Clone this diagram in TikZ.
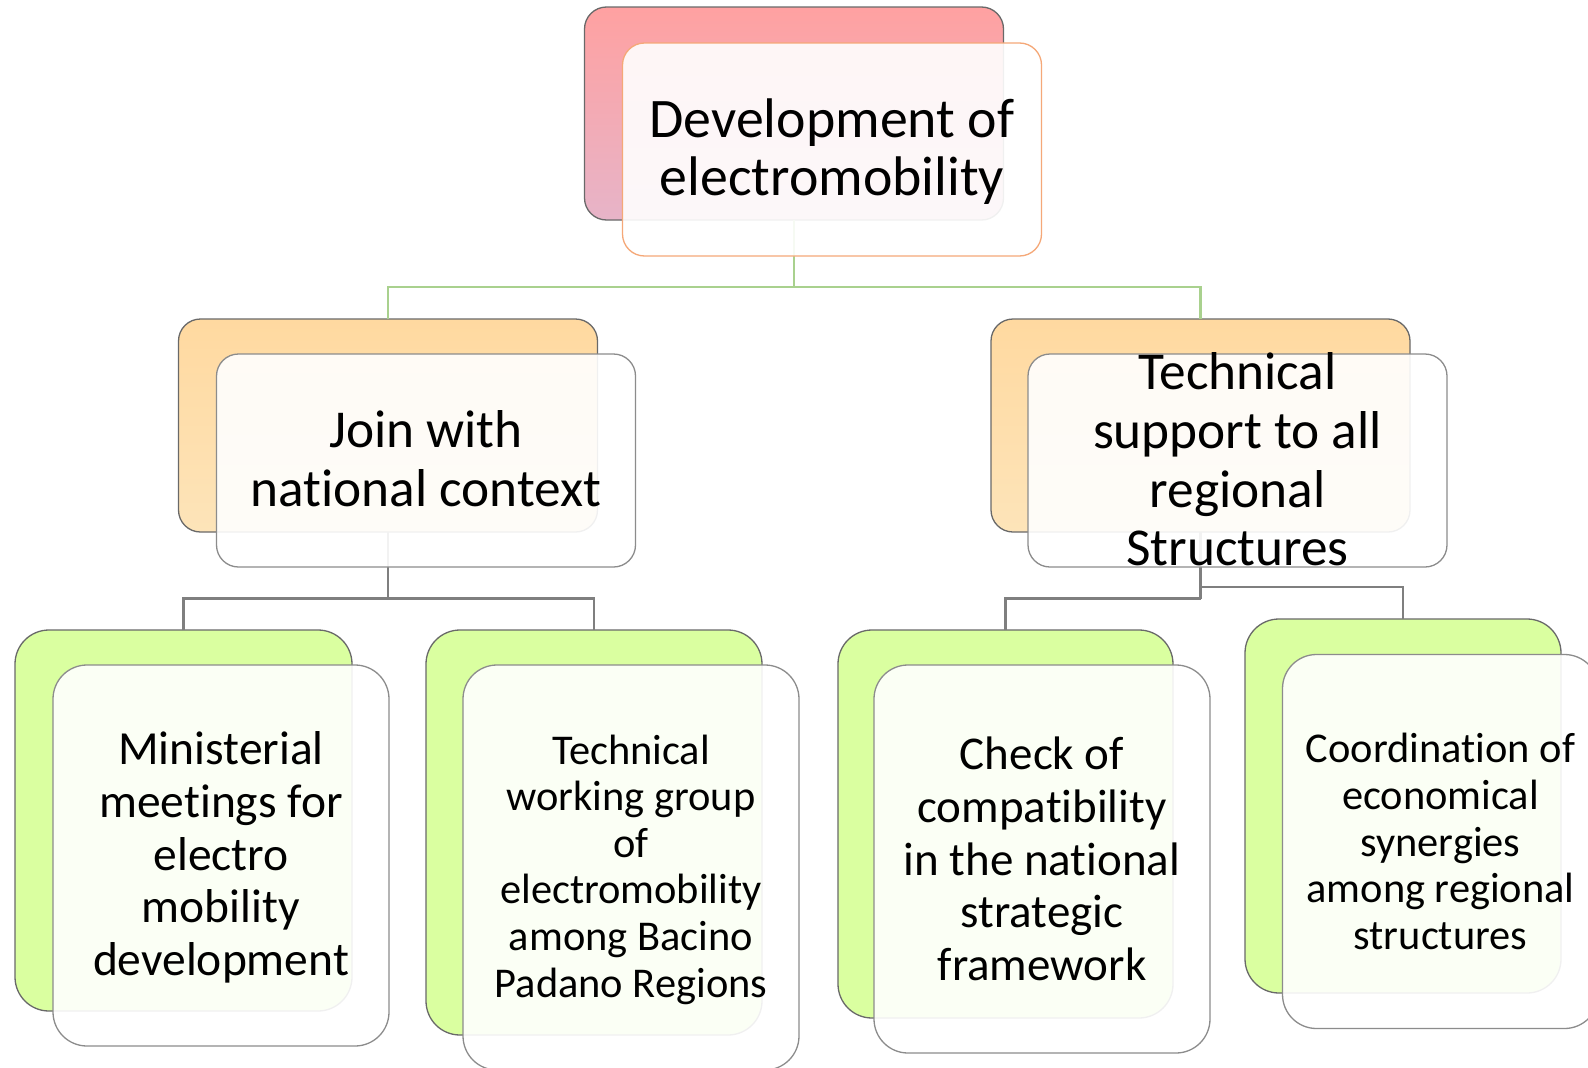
\documentclass[tikz,border=0pt]{standalone}
\usepackage{fontspec}
\setmainfont{Carlito}[Ligatures={NoCommon,NoContextual}]
\usetikzlibrary{calc}
\newcommand{\tI}{t\kern0pt i}
\definecolor{pinkTop}{RGB}{255,161,161}
\definecolor{pinkBot}{RGB}{231,180,200}
\definecolor{orTop}{RGB}{255,217,160}
\definecolor{orBot}{RGB}{253,228,185}
\definecolor{grFill}{RGB}{218,255,160}
\definecolor{backLine}{RGB}{105,105,105}
\definecolor{frontLine}{RGB}{140,140,140}
\definecolor{orLine}{RGB}{245,168,120}
\definecolor{gLine}{RGB}{169,209,142}
\definecolor{grayLine}{RGB}{127,127,127}
\tikzset{
  box/.style={rectangle, inner sep=0pt, outer sep=0pt},
  backone/.style={box, draw=backLine, line width=1.3pt, rounded corners=22pt, minimum width=419pt, minimum height=213pt},
  frontone/.style={box, draw=frontLine, line width=1.3pt, rounded corners=22pt, minimum width=419pt, minimum height=213pt, fill=white, fill opacity=0.9},
  backtwo/.style={box, draw=backLine, line width=1.3pt, rounded corners=34pt, fill=grFill},
  fronttwo/.style={box, draw=frontLine, line width=1.3pt, rounded corners=34pt, fill=white, fill opacity=0.9},
  label/.style={align=center, inner sep=0pt, text=black},
  gconn/.style={draw=gLine, line width=2.2pt},
  kconn/.style={draw=grayLine, line width=2.5pt},
}
\begin{document}
\begin{tikzpicture}[x=1pt, y=-1pt]
\useasboundingbox[fill=white] (0,0) rectangle (1588,1068);

% junction coordinates
\coordinate (j0) at (794,287);
\coordinate (j1) at (388,598.5);
\coordinate (j2a) at (1200.5,598.5);
\coordinate (j2b) at (1200.5,587);

% back boxes
\node[backone, top color=pinkTop, bottom color=pinkBot] (b0) at (794,113.5) {};
\node[backone, top color=orTop, bottom color=orBot] (b1) at (388,425.5) {};
\node[backone, top color=orTop, bottom color=orBot] (b2) at (1200.5,425.5) {};
\node[backtwo, minimum width=337pt, minimum height=381pt] (a1) at (183.5,820.5) {};
\node[backtwo, minimum width=336pt, minimum height=405pt] (a2) at (594,832.5) {};
\node[backtwo, minimum width=335pt, minimum height=388pt] (a3) at (1005.5,824) {};
\node[backtwo, minimum width=316pt, minimum height=374pt] (a4) at (1403,806) {};

% connectors
\draw[gconn] (b0.south) -- (j0);
\draw[gconn] (b1.north) |- (j0) -| (b2.north);
\draw[kconn] (b1.south) -- (j1);
\draw[kconn] (a1.north) |- (j1) -| (a2.north);
\draw[kconn] (b2.south) -- (j2a);
\draw[kconn] (a3.north) |- (j2a);
\draw[kconn] (j2b) -| (a4.north);

% front boxes
\node[frontone, draw=orLine] (f0) at (832,149.5) {};
\node[frontone] (f1) at (426,460.5) {};
\node[frontone] (f2) at (1237.5,460.5) {};
\node[fronttwo, minimum width=336pt, minimum height=381pt] (g1) at (221,855.5) {};
\node[fronttwo, minimum width=336pt, minimum height=405pt] (g2) at (631,867.5) {};
\node[fronttwo, minimum width=336pt, minimum height=388pt] (g3) at (1042,859) {};
\node[fronttwo, minimum width=316pt, minimum height=374pt] (g4) at (1440.5,841.5) {};

% texts
\node[label, font=\fontsize{55.8}{58.7}\selectfont] (t0) at ($(f0.center)+(0,2)$) {Development of\\electromobility};
\node[label, font=\fontsize{53.3}{58.7}\selectfont] (t1) at ($(f1.center)+(0,-2)$) {Join with\\na\tI onal context};
\node[label, font=\fontsize{53.3}{58.7}\selectfont] (t2) at ($(f2.center)+(0,-1)$) {Technical\\support to all\\regional\\Structures};
\node[label, font=\fontsize{47.5}{52.7}\selectfont] (u1) at ($(g1.center)+(0,2)$) {Ministerial\\meetings for\\electro\\mobility\\development};
\node[label, font=\fontsize{42.4}{46.6}\selectfont] (u2) at ($(g2.center)+(0,2)$) {Technical\\working group\\of\\electromobility\\among Bacino\\Padano Regions};
\node[label, font=\fontsize{47}{52.7}\selectfont] (u3) at (g3.center) {Check of\\compa\tI bility\\in the na\tI onal\\strategic\\framework};
\node[label, font=\fontsize{42.4}{46.6}\selectfont] (u4) at (g4.center) {Coordina\tI on of\\economical\\synergies\\among regional\\structures};
\end{tikzpicture}
\end{document}
